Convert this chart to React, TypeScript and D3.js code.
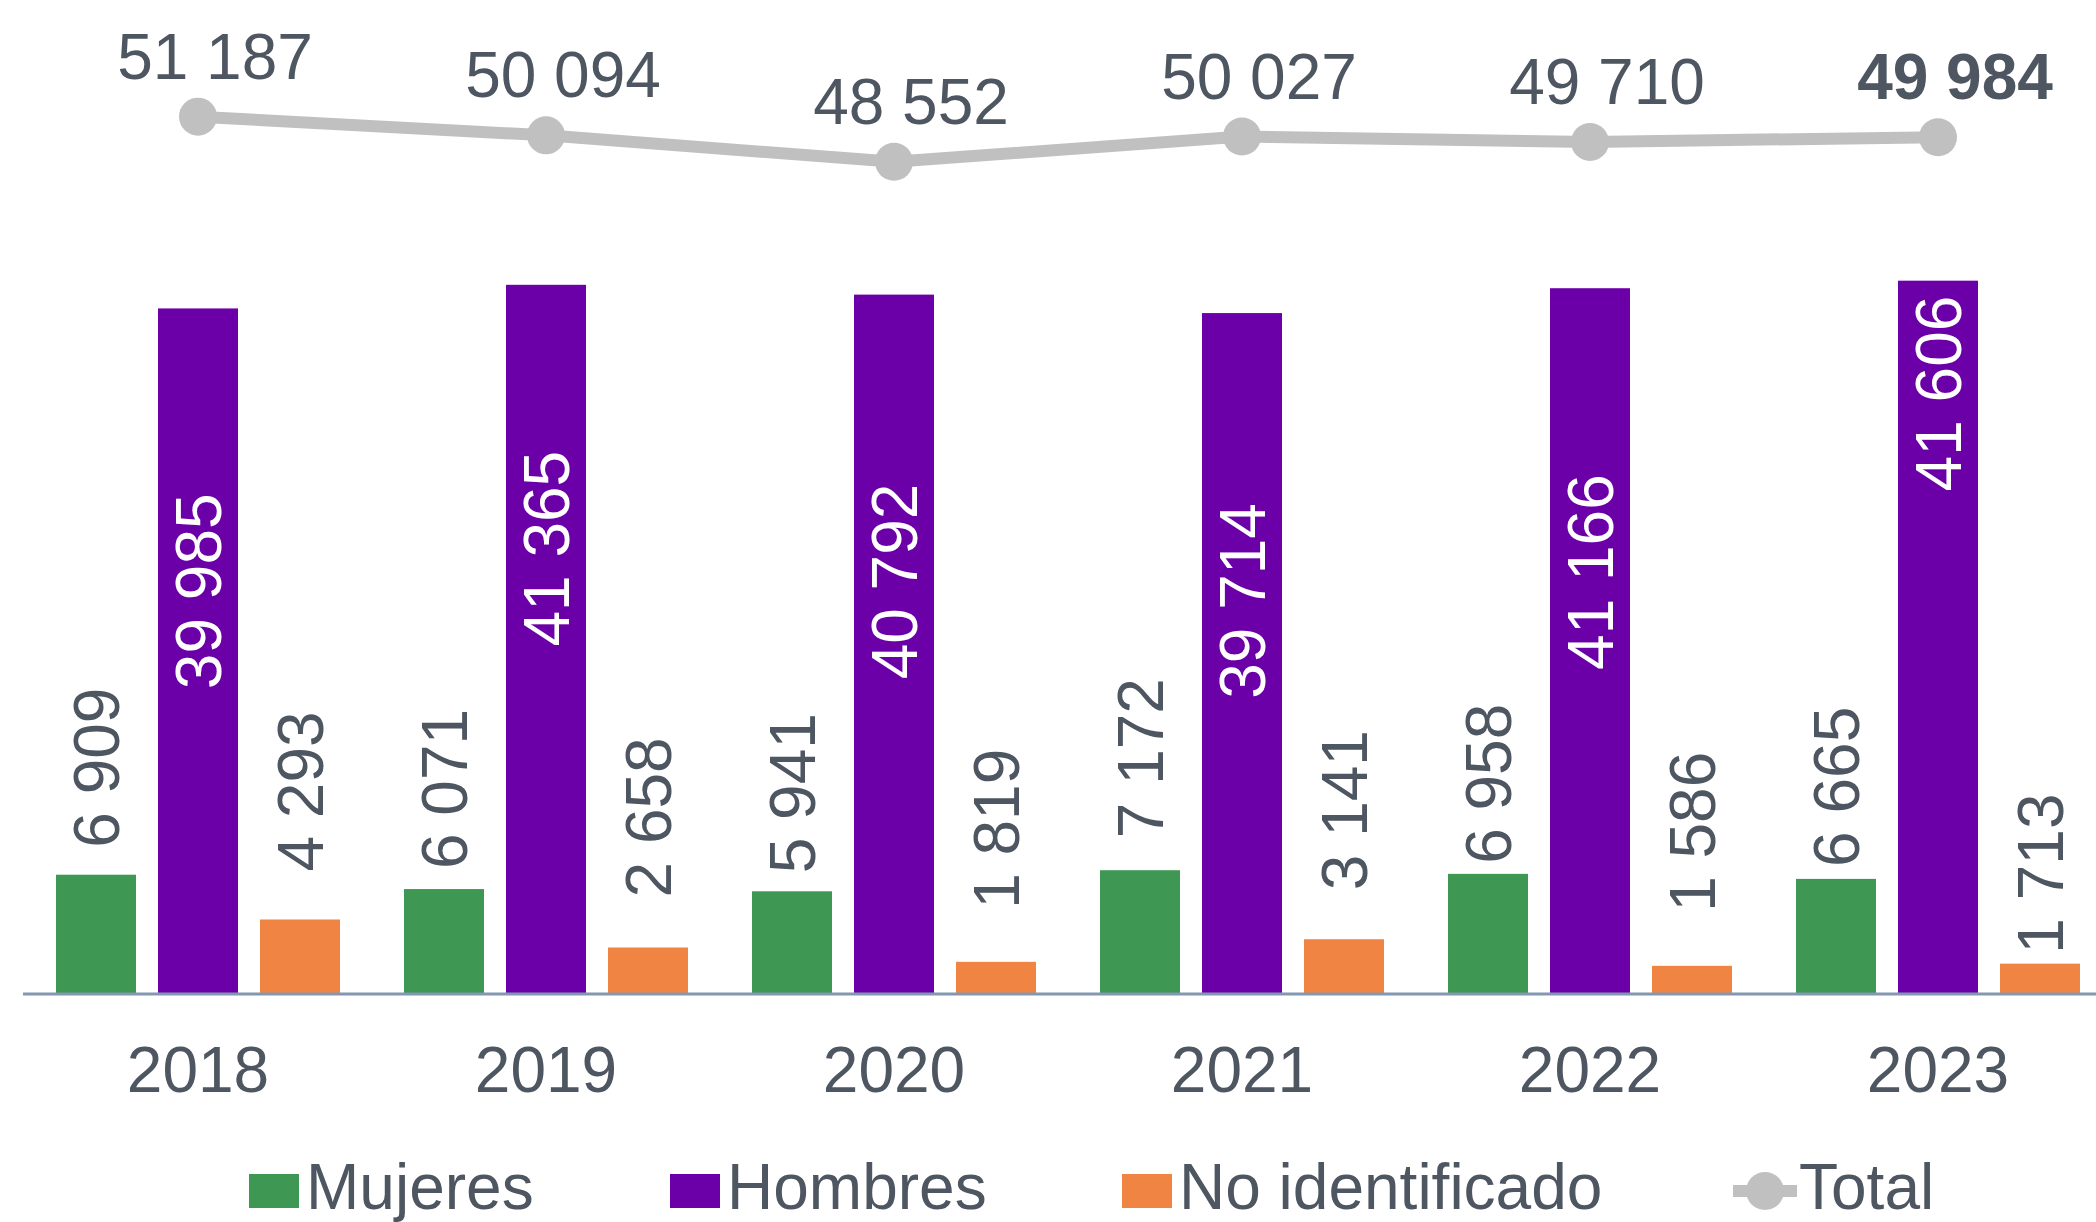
import React, { useEffect, useRef } from 'react';
import * as d3 from 'd3';

const years = ['2018', '2019', '2020', '2021', '2022', '2023'];
const mujeres = [6909, 6071, 5941, 7172, 6958, 6665];
const hombres = [39985, 41365, 40792, 39714, 41166, 41606];
const noIdentificado = [4293, 2658, 1819, 3141, 1586, 1713];
const total = [51187, 50094, 48552, 50027, 49710, 49984];

const seriesNames = ['Mujeres', 'Hombres', 'No identificado'];

// label placement tweaks (px), the source chart had hand-moved labels
const mujeresLabelGap = [27, 20, 18, 32, 10, 12];
const noIdLabelGap = [48, 50, 53, 49, 54, 10];
const hombresLabelDrop = [185, 166, 189, 190, 186, 15];

const W = 2096;
const H = 1222;

const colors = {
  mujeres: '#3E9853',
  hombres: '#6C00A8',
  noId: '#F08442',
  total: '#C0C0C0',
  text: '#4D5661',
  axis: '#8497B0'
};

const FONT = '"Liberation Sans", Arial, sans-serif';
const FS = 64;
const CAP = FS * 0.716;

export default function App() {
  const svgRef = useRef<SVGSVGElement>(null);

  useEffect(() => {
    if (!svgRef.current) return;
    const svg = d3.select(svgRef.current);
    svg.selectAll('*').remove();

    const baseline = 993;
    const x0 = d3.scaleBand<string>().domain(years).range([24, 2112]).padding(0);
    const x1 = d3.scaleBand<string>()
      .domain(seriesNames)
      .range([32, x0.bandwidth() - 32])
      .paddingInner(22 / 102)
      .paddingOuter(0);
    const y = d3.scaleLinear().domain([0, 58000]).range([baseline, 0]);

    const fmt = (v: number) => d3.format(',')(v).replace(/,/g, ' ');

    const seriesData = [
      { name: 'Mujeres', values: mujeres, color: colors.mujeres },
      { name: 'Hombres', values: hombres, color: colors.hombres },
      { name: 'No identificado', values: noIdentificado, color: colors.noId }
    ];

    // bars
    seriesData.forEach(s => {
      svg.append('g')
        .selectAll('rect')
        .data(s.values)
        .enter().append('rect')
        .attr('x', (d, i) => (x0(years[i]) as number) + (x1(s.name) as number))
        .attr('y', d => y(d))
        .attr('width', x1.bandwidth())
        .attr('height', d => baseline - y(d))
        .attr('fill', s.color);
    });

    // x axis line
    svg.append('line')
      .attr('x1', 23)
      .attr('x2', W)
      .attr('y1', baseline + 1)
      .attr('y2', baseline + 1)
      .attr('stroke', colors.axis)
      .attr('stroke-width', 3);

    // year labels
    svg.append('g')
      .selectAll('text')
      .data(years)
      .enter().append('text')
      .attr('x', d => (x0(d) as number) + x0.bandwidth() / 2)
      .attr('y', 1092)
      .attr('text-anchor', 'middle')
      .style('font-family', FONT)
      .style('font-size', `${FS}px`)
      .attr('fill', colors.text)
      .text(d => d);

    // rotated bar labels
    const barCx = (i: number, name: string) =>
      (x0(years[i]) as number) + (x1(name) as number) + x1.bandwidth() / 2;

    const addRotated = (cx: number, yy: number, anchor: string, fill: string, txt: string) => {
      svg.append('text')
        .attr('transform', `translate(${cx + CAP / 2},${yy}) rotate(-90)`)
        .attr('text-anchor', anchor)
        .style('font-family', FONT)
        .style('font-size', `${FS}px`)
        .attr('fill', fill)
        .text(txt);
    };

    mujeres.forEach((v, i) => {
      addRotated(barCx(i, 'Mujeres'), y(v) - mujeresLabelGap[i], 'start', colors.text, fmt(v));
    });
    noIdentificado.forEach((v, i) => {
      addRotated(barCx(i, 'No identificado'), y(v) - noIdLabelGap[i], 'start', colors.text, fmt(v));
    });
    hombres.forEach((v, i) => {
      addRotated(barCx(i, 'Hombres'), y(v) + hombresLabelDrop[i], 'end', '#FFFFFF', fmt(v));
    });

    // total line
    const cx = (i: number) => (x0(years[i]) as number) + x0.bandwidth() / 2;
    const line = d3.line<number>()
      .x((d, i) => cx(i))
      .y(d => y(d));

    svg.append('path')
      .datum(total)
      .attr('d', line)
      .attr('fill', 'none')
      .attr('stroke', colors.total)
      .attr('stroke-width', 12)
      .attr('stroke-linejoin', 'round');

    svg.append('g')
      .selectAll('circle')
      .data(total)
      .enter().append('circle')
      .attr('cx', (d, i) => cx(i))
      .attr('cy', d => y(d))
      .attr('r', 19)
      .attr('fill', colors.total);

    svg.append('g')
      .selectAll('text')
      .data(total)
      .enter().append('text')
      .attr('x', (d, i) => cx(i) + 17)
      .attr('y', d => y(d) - 38)
      .attr('text-anchor', 'middle')
      .style('font-family', FONT)
      .style('font-size', `${FS}px`)
      .style('font-weight', (d, i) => (i === total.length - 1 ? 'bold' : 'normal'))
      .attr('fill', colors.text)
      .text(d => fmt(d));

    // legend
    const legendItems = [
      { label: 'Mujeres', color: colors.mujeres, x: 249, type: 'rect' },
      { label: 'Hombres', color: colors.hombres, x: 670, type: 'rect' },
      { label: 'No identificado', color: colors.noId, x: 1122, type: 'rect' },
      { label: 'Total', color: colors.total, x: 1733, type: 'line' }
    ];

    const legend = svg.append('g');
    legendItems.forEach(item => {
      const g = legend.append('g').attr('transform', `translate(${item.x},0)`);
      if (item.type === 'rect') {
        g.append('rect')
          .attr('x', 0)
          .attr('y', 1174)
          .attr('width', 50)
          .attr('height', 34)
          .attr('fill', item.color);
        g.append('text')
          .attr('x', 57)
          .attr('y', 1209)
          .style('font-family', FONT)
          .style('font-size', `${FS}px`)
          .attr('fill', colors.text)
          .text(item.label);
      } else {
        g.append('line')
          .attr('x1', 0)
          .attr('x2', 64)
          .attr('y1', 1191)
          .attr('y2', 1191)
          .attr('stroke', item.color)
          .attr('stroke-width', 12);
        g.append('circle')
          .attr('cx', 32)
          .attr('cy', 1191)
          .attr('r', 19)
          .attr('fill', item.color);
        g.append('text')
          .attr('x', 66)
          .attr('y', 1209)
          .style('font-family', FONT)
          .style('font-size', `${FS}px`)
          .attr('fill', colors.text)
          .text(item.label);
      }
    });
  }, []);

  return (
    <div style={{ position: 'absolute', left: 0, top: 0, width: W, height: H, background: '#FFFFFF' }}>
      <svg ref={svgRef} width={W} height={H} style={{ display: 'block' }} />
    </div>
  );
}
